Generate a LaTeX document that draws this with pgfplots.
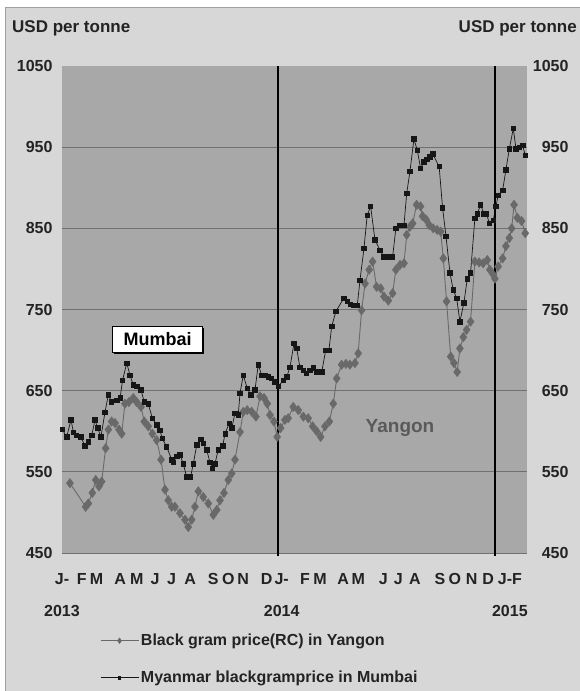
\documentclass[border=0pt]{standalone}
\usepackage{pgfplots}
\pgfplotsset{compat=1.18}
\usetikzlibrary{shadows}
\usepackage{fontspec}
\setmainfont{Liberation Sans}
\definecolor{panel}{RGB}{215,215,215}
\definecolor{panelborder}{RGB}{160,160,160}
\definecolor{plotbg}{RGB}{168,168,168}
\definecolor{gridc}{RGB}{112,112,112}
\definecolor{yangon}{RGB}{105,105,105}
\definecolor{mumbai}{RGB}{22,22,22}
\definecolor{txt}{RGB}{35,35,35}
\definecolor{ylbl}{RGB}{90,90,90}
\begin{document}
\begin{tikzpicture}
\path[use as bounding box] (0pt,0pt) rectangle (579pt,691pt);
\fill[white] (0pt,0pt) rectangle (579pt,691pt);
\filldraw[fill=panel, draw=panelborder, line width=1pt] (5.5pt,-2pt) rectangle (582pt,683pt);
\node[anchor=west, font=\fontsize{17}{20}\selectfont\bfseries, text=txt, inner sep=0pt] at (12pt,663pt) {USD per tonne};
\node[anchor=east, font=\fontsize{17}{20}\selectfont\bfseries, text=txt, inner sep=0pt] at (577pt,663pt) {USD per tonne};
\begin{axis}[
  at={(62pt,138pt)}, anchor=south west, scale only axis,
  width=465pt, height=487pt,
  xmin=0, xmax=25.78, ymin=450, ymax=1050,
  clip=false,
  axis background/.style={fill=plotbg},
  axis line style={draw=none},
  major tick length=0pt,
  ytick={450,550,650,750,850,950},
  extra y ticks={1050}, extra y tick style={grid=none},
  ymajorgrids, grid style={gridc, line width=1pt},
  /pgf/number format/1000 sep={},
  /pgf/number format/assume math mode=true,
  yticklabel style={font=\fontsize{16}{19}\selectfont\bfseries, text=txt, xshift=-6pt},
  xtick={0,1.09,1.92,3.22,4.14,5.16,6.08,7.10,8.39,9.22,10.05,11.35,12.18,13.47,14.30,15.59,16.42,17.81,18.64,19.57,20.95,21.78,22.71,23.63,24.83},
  xticklabels={{J-\\[13pt]2013},F,M,A,M,J,J,A,S,O,N,D,{J-\\[13pt]2014},F,M,A,M,J,J,A,S,O,N,D,{J-F\\[13pt]2015}},
  xticklabel style={align=center, font=\fontsize{16}{19}\selectfont\bfseries, text=txt, yshift=-17pt},
  legend style={at={(0.075,-0.158)}, anchor=north west, draw=none, fill=none,
    font=\fontsize{16}{19}\selectfont\bfseries, text=txt, row sep=20pt, cells={anchor=west}},
  legend image code/.code={\draw[mark repeat=2,mark phase=2,#1, every mark/.append style={scale=0.6}] plot coordinates {(0pt,0pt) (19pt,0pt) (38pt,0pt)};},
]
\addplot[color=yangon, line width=0.9pt, mark=diamond*, mark size=4.8pt, mark options={fill=yangon, draw=yangon, line width=0.3pt}] coordinates {
(0.44,536) (1.31,507) (1.46,511) (1.68,524) (1.87,540) (2.05,532) (2.20,538) (2.42,579) (2.57,602) (2.75,612)
(2.94,610) (3.16,602) (3.31,597) (3.49,634) (3.71,636) (3.95,641) (4.14,636) (4.38,630) (4.56,612) (4.78,606)
(5.01,597) (5.25,589) (5.49,565) (5.71,528) (5.89,515) (6.08,507) (6.26,507) (6.54,499) (6.82,491) (7.00,482)
(7.19,491) (7.37,507) (7.56,526) (7.83,519) (8.11,511) (8.39,497) (8.58,503) (8.76,515) (8.98,524) (9.22,540)
(9.41,548) (9.59,565) (9.87,599) (10.05,624) (10.27,626) (10.52,624) (10.75,618) (10.98,643) (11.20,641) (11.38,634)
(11.53,620) (11.75,612) (11.93,593) (12.12,604) (12.36,614) (12.54,616) (12.82,630) (13.10,626) (13.38,618) (13.65,616)
(13.90,606) (14.12,600) (14.34,593) (14.58,606) (14.82,612) (15.04,634) (15.23,665) (15.50,682) (15.74,683) (15.96,682)
(16.24,684) (16.42,696) (16.61,749) (16.80,782) (17.03,799) (17.22,809) (17.44,778) (17.67,776) (17.85,766) (18.09,761)
(18.33,770) (18.51,799) (18.74,805) (18.96,807) (19.11,842) (19.29,852) (19.44,856) (19.66,879) (19.88,877) (19.99,865)
(20.18,861) (20.36,854) (20.58,850) (20.80,848) (20.99,846) (21.14,813) (21.32,760) (21.55,692) (21.73,684) (21.91,673)
(22.06,702) (22.25,716) (22.43,725) (22.65,735) (22.89,809) (23.13,808) (23.35,807) (23.58,811) (23.72,799) (23.91,793)
(24.00,788) (24.18,803) (24.43,813) (24.61,828) (24.80,838) (24.93,850) (25.06,879) (25.24,863) (25.48,859) (25.68,844)
};
\addlegendentry{Black gram price(RC) in Yangon}
\addplot[color=mumbai, line width=0.7pt, mark=square*, mark size=2.2pt, mark options={fill=mumbai, draw=mumbai}] coordinates {
(0.02,602) (0.26,593) (0.50,614) (0.63,599) (0.81,595) (1.05,593) (1.27,582) (1.46,587) (1.65,595) (1.83,614)
(1.98,604) (2.16,593) (2.38,623) (2.57,645) (2.75,636) (3.03,638) (3.22,641) (3.36,663) (3.59,684) (3.77,669)
(3.95,657) (4.14,655) (4.38,651) (4.56,636) (4.78,634) (5.01,616) (5.25,608) (5.43,601) (5.56,591) (5.80,581)
(6.08,565) (6.17,562) (6.36,569) (6.54,571) (6.72,560) (6.91,544) (7.13,544) (7.28,560) (7.47,583) (7.69,590)
(7.83,585) (8.02,577) (8.20,562) (8.35,554) (8.48,560) (8.66,577) (8.91,582) (9.04,597) (9.27,610) (9.41,604)
(9.59,622) (9.77,620) (9.87,647) (10.05,669) (10.27,653) (10.46,645) (10.70,651) (10.88,682) (11.07,669) (11.25,669)
(11.44,667) (11.62,665) (11.81,661) (11.99,655) (12.27,663) (12.46,667) (12.64,679) (12.86,708) (13.01,702) (13.19,679)
(13.38,675) (13.56,671) (13.75,675) (13.93,678) (14.12,673) (14.40,673) (14.62,700) (14.80,700) (14.95,729) (15.19,748)
(15.63,764) (15.81,760) (16.00,756) (16.19,755) (16.37,755) (16.52,786) (16.74,825) (16.92,866) (17.11,877) (17.35,836)
(17.63,823) (17.85,815) (18.09,815) (18.33,815) (18.51,850) (18.70,854) (18.96,854) (19.11,893) (19.29,920) (19.51,960)
(19.70,946) (19.88,924) (20.07,932) (20.22,935) (20.40,938) (20.55,942) (20.91,926) (21.10,875) (21.29,840) (21.51,795)
(21.69,774) (21.88,764) (22.06,735) (22.28,758) (22.47,788) (22.65,795) (22.89,862) (23.02,868) (23.21,879) (23.39,868)
(23.54,868) (23.69,856) (23.91,860) (24.06,877) (24.18,891) (24.43,897) (24.61,922) (24.80,948) (25.02,973) (25.17,948)
(25.35,950) (25.54,952) (25.68,940)
};
\addlegendentry{Myanmar blackgramprice in  Mumbai}
\draw[black, line width=2pt] (axis cs:12,446) -- (axis cs:12,1050);
\draw[black, line width=2pt] (axis cs:24,446) -- (axis cs:24,1050);
\node[draw=black, line width=1.6pt, fill=white, drop shadow={shadow xshift=1.6pt, shadow yshift=-1.6pt, fill=black, opacity=1}, font=\fontsize{18}{21}\selectfont\bfseries, text=black, minimum width=90pt, minimum height=26pt, inner sep=2pt] at (axis cs:5.30,713) {Mumbai};
\node[text=ylbl, font=\fontsize{19}{23}\selectfont\bfseries] at (axis cs:18.74,604) {Yangon};
\end{axis}
\begin{axis}[
  at={(62pt,138pt)}, anchor=south west, scale only axis,
  width=465pt, height=487pt,
  xmin=0, xmax=1, ymin=450, ymax=1050,
  axis y line*=right, axis x line=none,
  y axis line style={draw=none},
  major tick length=0pt,
  ytick={450,550,650,750,850,950,1050},
  /pgf/number format/1000 sep={},
  /pgf/number format/assume math mode=true,
  yticklabel style={font=\fontsize{16}{19}\selectfont\bfseries, text=txt, anchor=east, xshift=45pt},
]
\end{axis}
\end{tikzpicture}
\end{document}
